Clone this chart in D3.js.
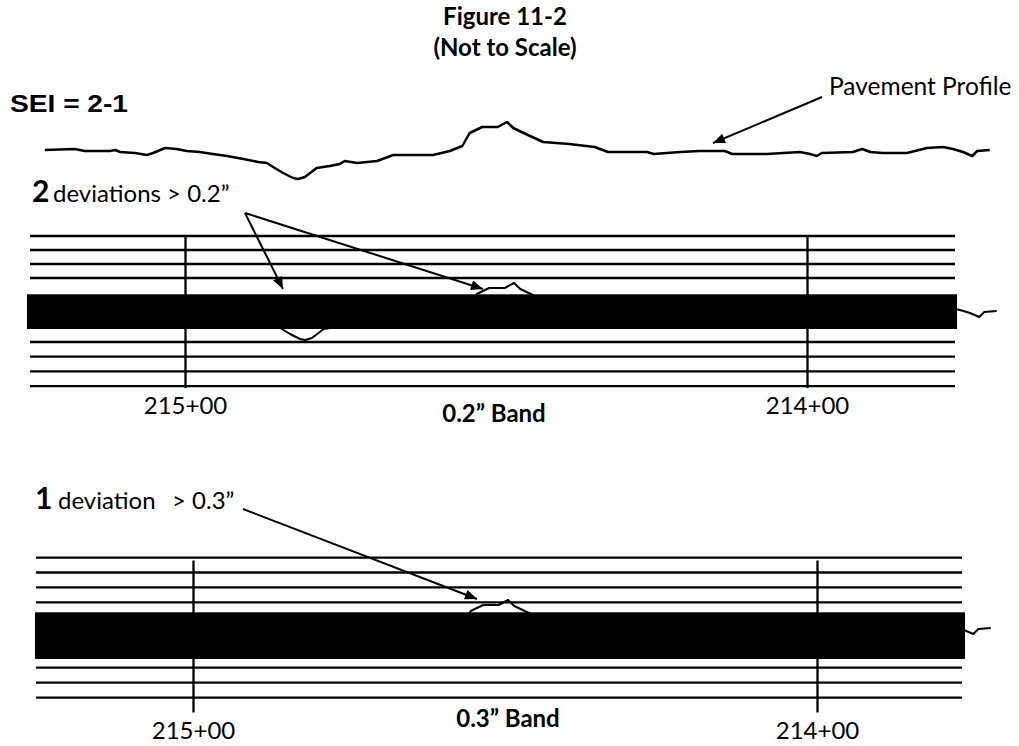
<!DOCTYPE html>
<html lang="en">
<head>
<meta charset="utf-8">
<title>Figure 11-2: SEI bands</title>
<script src="https://cdnjs.cloudflare.com/ajax/libs/d3/7.8.5/d3.min.js"></script>
<style>
  body { margin: 0; background: #fff; }
  text { font-family: Lato, "Open Sans", sans-serif; fill: #000; white-space: pre; }
</style>
</head>
<body>
<script>

// pavement profile, distance in ft past station 215+00, elevation in relative units (not to scale)
var profileDist = [-21.4, -16.6, -15.0, -10.9, -10.1, -9.3, -6.9, -5.0, -4.0, -2.1, -0.2, 1.4, 3.5, 5.6, 7.9,
    10.5, 12.9, 14.3, 15.3, 16.9, 18.5, 19.3, 20.4, 22.3, 24.4, 26.0, 26.8, 28.8, 32.0, 34.6, 41.0,
    43.7, 45.7, 46.9, 48.9, 51.4, 52.9, 53.9, 56.6, 58.7, 62.9, 67.0, 69.1, 75.4, 76.5, 80.7, 83.9,
    87.9, 89.1, 94.7, 100.0, 101.6, 102.7, 103.5, 108.5, 110.0, 111.3, 113.3, 117.2, 120.4, 123.0,
    124.6, 126.2, 127.7, 128.5, 130.5];
var profileElev = [2, 3, 1, 1, 2, 0, -1, -3, -1, 4, 3, 1, 0, -2, -4,
    -7, -10, -11, -15, -21, -26, -27, -25, -16, -14, -12, -9, -11, -9, -3, -3,
    1, 6, 19, 25, 25, 30, 24, 16, 10, 8, 5, 0, 0, -2, 0, 1,
    1, -2, -2, 0, -2, -4, -1, 0, 3, 0, -1, -1, 4, 5,
    3, 0, -4, 1, 2];

var stationValues = [21500, 21400];
var stationLabels = ["215+00", "214+00"];
var bandNames = ["0.2\u201D Band", "0.3\u201D Band"];
var deviationCounts = ["2", "1"];
var deviationTexts = [["deviations > 0.2\u201D"], ["deviation", "> 0.3\u201D"]];
var titleLines = ["Figure 11-2", "(Not to Scale)"];
var seiLabel = "SEI = 2-1";
var profileLabel = "Pavement Profile";

var w = 1019, h = 746;

var svg = d3.select("body").append("svg")
    .attr("width", w)
    .attr("height", h);

var defs = svg.append("defs");
defs.append("marker")
    .attr("id", "head")
    .attr("viewBox", "0 0 12 10")
    .attr("refX", 12).attr("refY", 5)
    .attr("markerUnits", "userSpaceOnUse")
    .attr("markerWidth", 14).attr("markerHeight", 10)
    .attr("orient", "auto")
  .append("path")
    .attr("d", "M0,0 L12,5 L0,10 Z")
    .attr("fill", "#000");

// shared scales for the profile
var xProf = d3.scaleLinear().domain([0, 100]).range([178, 800]);
var yElev = d3.scaleLinear().domain([-30, 30]).range([30, -30]);

var idx = d3.range(profileDist.length);
var line = d3.line()
    .x(function(i) { return xProf(profileDist[i]); })
    .y(function(i) { return yElev(profileElev[i]); });

// title
svg.selectAll("text.title")
    .data(titleLines)
    .enter().append("text")
    .attr("class", "title")
    .attr("x", 505)
    .attr("y", function(d, i) { return 25 + i * 31; })
    .attr("text-anchor", "middle")
    .style("font-size", "24px")
    .style("font-weight", "bold")
    .text(function(d) { return d; });

svg.append("text")
    .attr("x", 10).attr("y", 112)
    .attr("textLength", 118)
    .attr("lengthAdjust", "spacingAndGlyphs")
    .style("font-family", "'Liberation Sans', Arial, sans-serif")
    .style("font-weight", "bold")
    .style("font-size", "23px")
    .text(seiLabel);

svg.append("text")
    .attr("x", 829).attr("y", 95)
    .style("font-size", "24.5px")
    .text(profileLabel);

// top profile
svg.append("path")
    .datum(idx)
    .attr("transform", "translate(0,152)")
    .attr("d", line)
    .attr("fill", "none")
    .attr("stroke", "#000")
    .attr("stroke-width", 2.5)
    .attr("stroke-linejoin", "round");

function arrow(x1, y1, x2, y2) {
    svg.append("line")
        .attr("x1", x1).attr("y1", y1)
        .attr("x2", x2).attr("y2", y2)
        .attr("stroke", "#000")
        .attr("stroke-width", 2)
        .attr("marker-end", "url(#head)");
}

arrow(822, 97, 713, 143);

// the two bands
var panels = [
    { dx: 7, base: 313, rect: [27, 957, 294.3, 329], lx: [30, 955],
      above: { gap: 16.3, step: 14, n: 4 }, below: { gap: 13, step: 14.7, n: 4 },
      sta: [185, 807], axisY: 388, tick: 152, bandX: 494, bandY: 422,
      devY: 202, devX: [32, 53], arrowFrom: [245, 213], arrowTo: [[283, 289], [483, 289]] },
    { dx: 1, base: 630, rect: [35, 965, 612.3, 659], lx: [36, 962],
      above: { gap: 10, step: 14.9, n: 4 }, below: { gap: 8.7, step: 15, n: 3 },
      sta: [193, 817], axisY: 712.5, tick: 152, bandX: 508, bandY: 727,
      devY: 509, devX: [35, 58, 172], arrowFrom: [243, 509], arrowTo: [[477, 599]] }
];

panels.forEach(function(p, k) {
    var g = svg.append("g");

    var ys = d3.range(p.above.n).map(function(i) { return p.rect[2] - p.above.gap - i * p.above.step; })
        .concat(d3.range(p.below.n).map(function(i) { return p.rect[3] + p.below.gap + i * p.below.step; }));

    g.selectAll("line.grid")
        .data(ys)
        .enter().append("line")
        .attr("class", "grid")
        .attr("x1", p.lx[0]).attr("x2", p.lx[1])
        .attr("y1", function(d) { return d; })
        .attr("y2", function(d) { return d; })
        .attr("stroke", "#000")
        .attr("stroke-width", 2.3);

    // station lines and labels
    var xSta = d3.scaleLinear().domain(stationValues).range(p.sta);
    var ax = g.append("g")
        .attr("transform", "translate(0," + p.axisY + ")")
        .call(d3.axisBottom(xSta)
            .tickValues(stationValues)
            .tickFormat(function(d, i) { return stationLabels[i]; })
            .tickSize(-p.tick)
            .tickPadding(9));
    ax.select(".domain").remove();
    ax.selectAll(".tick line").attr("stroke", "#000").attr("stroke-width", 2.3);
    ax.selectAll(".tick text")
        .attr("fill", "#000")
        .style("font-family", "Lato, sans-serif")
        .style("font-size", "24px");

    g.append("path")
        .datum(idx)
        .attr("transform", "translate(" + p.dx + "," + p.base + ")")
        .attr("d", line)
        .attr("fill", "none")
        .attr("stroke", "#000")
        .attr("stroke-width", 2)
        .attr("stroke-linejoin", "round");

    g.append("rect")
        .attr("x", p.rect[0]).attr("y", p.rect[2])
        .attr("width", p.rect[1] - p.rect[0])
        .attr("height", p.rect[3] - p.rect[2])
        .attr("fill", "#000");

    g.append("text")
        .attr("x", p.bandX).attr("y", p.bandY)
        .attr("text-anchor", "middle")
        .style("font-size", "24px")
        .style("font-weight", "bold")
        .text(bandNames[k]);

    var t = g.append("text").attr("y", p.devY);
    t.append("tspan")
        .attr("x", p.devX[0])
        .style("font-size", "30px")
        .style("font-weight", "bold")
        .text(deviationCounts[k]);
    deviationTexts[k].forEach(function(s, j) {
        t.append("tspan")
            .attr("x", p.devX[j + 1])
            .style("font-size", "24px")
            .text(s);
    });

    p.arrowTo.forEach(function(to) {
        arrow(p.arrowFrom[0], p.arrowFrom[1], to[0], to[1]);
    });
});

</script>
</body>
</html>
